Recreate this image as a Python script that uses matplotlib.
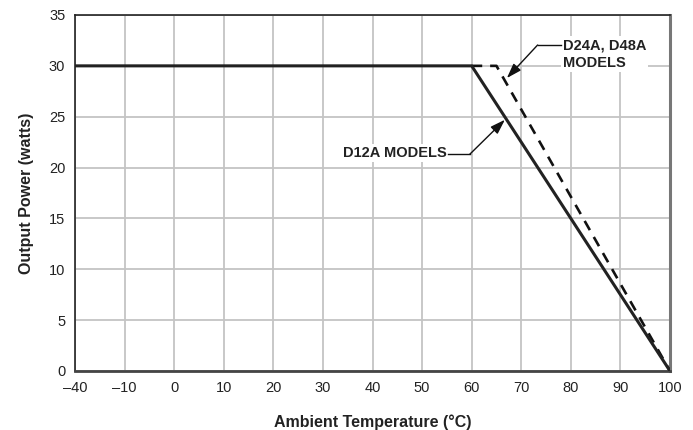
import matplotlib
matplotlib.use("Agg")
import matplotlib.pyplot as plt

plt.rcParams['font.family'] = ['Liberation Sans', 'DejaVu Sans']

# Axis tick values (broken axis: -40 then -10 ... 100, evenly spaced)
tick_temps = [-40, -10, 0, 10, 20, 30, 40, 50, 60, 70, 80, 90, 100]
tick_labels = ["\u201340", "\u201310", "0", "10", "20", "30", "40", "50", "60", "70", "80", "90", "100"]
y_ticks = [0, 5, 10, 15, 20, 25, 30, 35]

# Series
d12a_temp = [-40, 60, 100]
d12a_power = [30, 30, 0]
d24a_temp = [60, 65, 100]
d24a_power = [30, 30, 0]


def pos(t):
    # map temperature to evenly spaced axis position
    if t <= -40:
        return 0.0
    return (t + 20) / 10.0


fig = plt.figure(figsize=(6.93, 4.30), dpi=100)
ax = fig.add_axes([75/693, 1 - 371/430, (670-75)/693, (371-15)/430])

ax.set_xlim(0, 12)
ax.set_ylim(0, 35)
ax.set_xticks([pos(t) for t in tick_temps])
ax.set_xticklabels(tick_labels)
ax.set_yticks(y_ticks)
ax.tick_params(length=0, labelsize=10.5, pad=7, colors='#222222')

ax.grid(True, color='#c4c4c4', linewidth=1.3)
ax.set_axisbelow(True)

for side, sp in ax.spines.items():
    sp.set_color('#222222')
    sp.set_linewidth(1.2)
ax.spines['right'].set_color('#777777')
ax.spines['right'].set_linewidth(2.2)
ax.spines['bottom'].set_color('#444444')
ax.spines['bottom'].set_linewidth(2.0)

ax.plot([pos(t) for t in d24a_temp], d24a_power, color='#111111', lw=1.9,
        linestyle=(0, (4, 3)), zorder=3)
ax.plot([pos(t) for t in d12a_temp], d12a_power, color='#222222', lw=2.2, zorder=4)

ax.set_xlabel("Ambient Temperature (\u00b0C)", fontsize=11.5, fontweight='bold',
              labelpad=14, color='#222222')
ax.set_ylabel("Output Power (watts)", fontsize=11.5, fontweight='bold',
              labelpad=11, color='#222222')

# Annotation: D24A, D48A MODELS
ax.text(9.84, 31.15, "D24A, D48A\nMODELS", fontsize=10.5, fontweight='bold',
        ha='left', va='center', color='#222222', linespacing=1.35,
        bbox=dict(facecolor='white', edgecolor='none', pad=1.5), zorder=5)
ax.plot([9.81, 9.33], [32.05, 32.05], color='#111111', lw=1.0, zorder=5)
ax.annotate("", xy=(8.71, 28.8), xytext=(9.33, 32.05),
            arrowprops=dict(arrowstyle='-|>,head_length=0.9,head_width=0.3',
                            color='#111111', lw=1.0, shrinkA=0, shrinkB=0), zorder=5)

# Annotation: D12A MODELS
ax.text(7.5, 21.4, "D12A MODELS", fontsize=10.5, fontweight='bold',
        ha='right', va='center', color='#222222',
        bbox=dict(facecolor='white', edgecolor='none', pad=1.5), zorder=5)
ax.plot([7.52, 7.96], [21.3, 21.3], color='#111111', lw=1.0, zorder=5)
ax.annotate("", xy=(8.67, 24.7), xytext=(7.96, 21.3),
            arrowprops=dict(arrowstyle='-|>,head_length=0.9,head_width=0.3',
                            color='#111111', lw=1.0, shrinkA=0, shrinkB=0), zorder=5)

fig.savefig("out.png", dpi=100)
